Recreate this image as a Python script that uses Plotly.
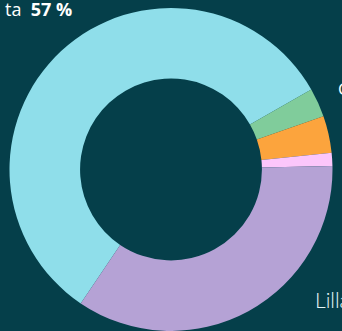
import plotly.graph_objects as go

labels = ["A", "B", "C", "D", "E"]
values = [57.3, 2.9, 3.7, 1.3, 34.8]
colors = ["#8FDEEA", "#80CC9B", "#FCA43D", "#FCC6FB", "#B5A2D5"]

BG = "#053F4A"
W, H = 342, 331
MT, MB = 8, 0

fig = go.Figure(go.Pie(
    labels=labels,
    values=values,
    marker=dict(colors=colors, line=dict(width=0)),
    hole=0.563,
    sort=False,
    direction="clockwise",
    rotation=214,
    textinfo="none",
    hoverinfo="none",
    showlegend=False,
))

def py(ypix):
    return (H - MB - ypix) / (H - MT - MB)

fig.update_layout(
    width=W, height=H,
    margin=dict(l=0, r=0, t=MT, b=MB),
    paper_bgcolor=BG, plot_bgcolor=BG,
    font=dict(family="Lato", color="#F2F7F7"),
    annotations=[
        dict(text="ta  <b>57 %</b>", x=74 / W, y=py(9), xref="paper", yref="paper",
             xanchor="right", yanchor="middle", showarrow=False,
             font=dict(size=18, family="Open Sans", color="#FFFFFF")),
        dict(text="C", x=336 / W, y=py(88.5), xref="paper", yref="paper",
             xanchor="left", yanchor="middle", showarrow=False,
             font=dict(size=17, family="Open Sans", color="#FFFFFF")),
        dict(text="Lilla", x=313 / W, y=py(299.5), xref="paper", yref="paper",
             xanchor="left", yanchor="middle", showarrow=False,
             font=dict(size=21, family="Lato", weight=300, color="#E6F6F6")),
    ],
)

fig.write_html("out.html")
